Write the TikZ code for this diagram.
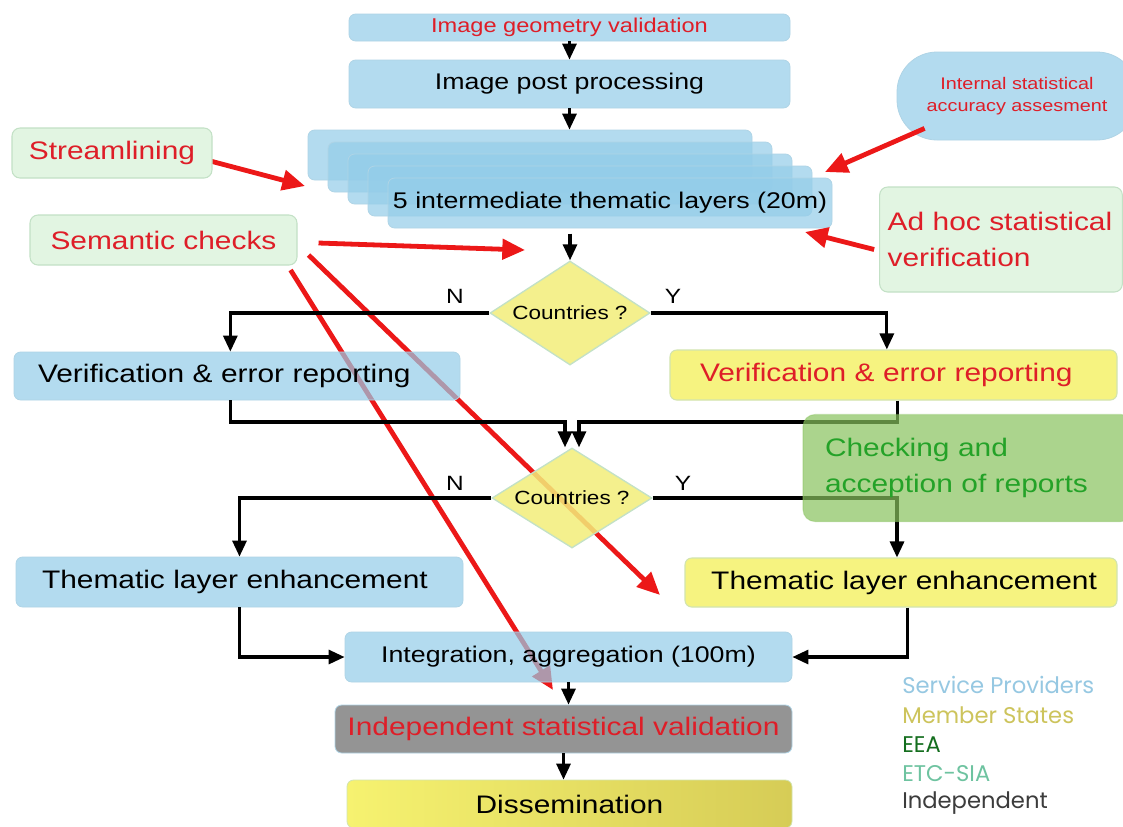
\documentclass[tikz,border=0pt]{standalone}
\usepackage{fontspec}
\setmainfont{Liberation Sans}[FakeStretch=1.18]
\newfontfamily\legendfont{Poppins}
\usetikzlibrary{shapes.geometric,arrows.meta,calc}
\pgfdeclarelayer{bg}
\pgfsetlayers{bg,main}
\definecolor{bluefill}{RGB}{148,205,233}
\definecolor{blueedge}{RGB}{175,212,230}
\definecolor{yelfill}{RGB}{246,243,128}
\definecolor{yeledge}{RGB}{210,228,175}
\definecolor{dmdfill}{RGB}{243,238,122}
\definecolor{grnlight}{RGB}{226,245,226}
\definecolor{grnedge}{RGB}{195,225,198}
\definecolor{checkfill}{RGB}{136,194,94}
\definecolor{checktext}{RGB}{36,162,40}
\definecolor{txtred}{RGB}{222,30,40}
\definecolor{arrred}{RGB}{236,24,24}
\definecolor{greyfill}{RGB}{148,148,148}
\definecolor{dissL}{RGB}{246,242,112}
\definecolor{dissR}{RGB}{214,204,86}
\definecolor{lgSP}{RGB}{150,200,226}
\definecolor{lgMS}{RGB}{205,196,92}
\definecolor{lgEEA}{RGB}{20,110,30}
\definecolor{lgETC}{RGB}{110,195,160}
\definecolor{lgInd}{RGB}{60,60,60}
\tikzset{
  bbox/.style={rectangle, rounded corners=5pt, fill=bluefill, fill opacity=0.7, text opacity=1,
    draw=blueedge, line width=0.6pt, inner sep=0pt},
  ybox/.style={rectangle, rounded corners=5pt, fill=yelfill, draw=yeledge, line width=0.8pt, inner sep=0pt},
  gbox/.style={rectangle, rounded corners=6pt, fill=grnlight, draw=grnedge, line width=0.8pt, inner sep=0pt},
  dmd/.style={diamond, fill=dmdfill, fill opacity=0.85, text opacity=1, draw=grnedge, line width=1pt, inner sep=0pt,
    font=\fontsize{14.3}{16}\selectfont},
  arr/.style={draw=black, line width=2.3pt, -{Triangle[length=12pt,width=10.5pt]}},
  redarr/.style={draw=arrred, line width=3.6pt, -{Triangle[length=17pt,width=15pt]}},
  yn/.style={font=\fontsize{15.5}{17}\selectfont, inner sep=0pt},
  lgd/.style={anchor=west, inner sep=0pt, font=\legendfont\fontsize{17}{19}\selectfont},
}
\begin{document}
\begin{tikzpicture}[x=0.75pt, y=-0.75pt, font=\fontsize{19}{27}\selectfont]
\useasboundingbox (0,0) rectangle (1123,826);
\begin{pgfonlayer}{bg}
\fill[white] (0,0) rectangle (1123,826);
\end{pgfonlayer}

% main column
\node[bbox, minimum width=330.75pt, minimum height=20.25pt, text=txtred, font=\fontsize{15}{17}\selectfont]
  (igv) at (569.5,27.5) {Image geometry validation};
\node[bbox, minimum width=330.75pt, minimum height=36pt, font=\fontsize{17}{20}\selectfont]
  (ipp) at (569.5,84) {Image post processing};
\foreach \i in {0,1,2,3}{
  \node[bbox, minimum width=333pt, minimum height=37.5pt] (s\i) at ({530+20*\i},{155+12*\i}) {};
}
\node[bbox, minimum width=333pt, minimum height=37.5pt, font=\fontsize{17}{20}\selectfont]
  (s4) at (610,203) {5 intermediate thematic layers (20m)};

\node[dmd, shape aspect=1.54, minimum width=120pt, minimum height=78pt] (d1) at (570,313) {Countries ?};
\node[bbox, align=left, text width=298.5pt, inner xsep=18pt, minimum height=36pt] (vl) at (237,376) {Verification \& error reporting};
\node[ybox, align=left, text width=290.25pt, inner xsep=22.5pt, minimum height=37.5pt, text=txtred] (vr) at (893.5,375) {Verification \& error reporting};

\node[dmd, shape aspect=1.6, minimum width=120pt, minimum height=75pt] (d2) at (572,498) {Countries ?};
\node[bbox, align=left, text width=296.25pt, inner xsep=19.5pt, minimum height=37.5pt] (tl) at (239.5,582) {Thematic layer enhancement};
\node[ybox, align=right, text width=294pt, inner xsep=15pt, minimum height=36.75pt] (tr) at (901,582.5) {Thematic layer enhancement};

\node[bbox, minimum width=335.25pt, minimum height=37.5pt, font=\fontsize{17}{20}\selectfont]
  (integ) at (568.5,657) {Integration, aggregation (100m)};
\node[rectangle, rounded corners=5pt, fill=greyfill, draw=blueedge, line width=0.6pt, inner sep=0pt,
  minimum width=342.75pt, minimum height=36pt, text=txtred] (isv) at (563.5,729) {Independent statistical validation};
\node[rectangle, rounded corners=5pt, left color=dissL, right color=dissR, draw=yeledge, line width=0.6pt, inner sep=0pt,
  minimum width=333.75pt, minimum height=36pt] (diss) at (569.5,804) {Dissemination};

% side boxes
\node[gbox, minimum width=150pt, minimum height=37.5pt, text=txtred] (stream) at (112,153) {Streamlining};
\node[gbox, minimum width=200.25pt, minimum height=37.5pt, text=txtred] (sem) at (163.5,240) {Semantic checks};
\node[rectangle, rounded corners=30pt, fill=bluefill, fill opacity=0.7, text opacity=1, draw=blueedge, line width=0.6pt,
  minimum width=180pt, minimum height=66pt, inner sep=0pt, text=txtred, align=center,
  font=\fontsize{12.6}{17}\selectfont] (internal) at (1017,96) {Internal statistical\\accuracy assesment};
\node[gbox, text=txtred, align=left, text width=170pt, inner xsep=6pt, minimum height=78.75pt]
  (adhoc) at (1001,239.5) {Ad hoc statistical\\verification};

% Y / N labels
\node[yn] (n1) at (455,296) {N};
\node[yn] (y1) at (673,296) {Y};
\node[yn] (n2) at (455,483) {N};
\node[yn] (y2) at (683,483) {Y};

% black connectors
\coordinate (m1) at (565,422);
\coordinate (m2) at (579,422);
\draw[arr] (igv.south) -- (ipp.north);
\draw[arr] (ipp.south) -- (ipp.south |- s0.north);
\draw[arr] ([yshift=-4pt]d1.north |- s4.south) -- (d1.north);
\draw[arr] (d1.west) -| ([xshift=-5pt]vl.north);
\draw[arr] (d1.east) -| ([xshift=-5pt]vr.north);
\draw[arr] ([xshift=-5pt]vl.south) |- (m1) -- (m1 |- d2.north);
\draw[arr] ([xshift=3pt]vr.south) |- (m2) -- (m2 |- d2.north);
\draw[arr] (d2.west) -| (tl.north);
\draw[arr] (d2.east) -| ([xshift=-3pt]tr.north);
\draw[arr] (tl.south) |- (integ.west);
\draw[arr] ([xshift=5pt]tr.south) |- (integ.east);
\draw[arr] (integ.south) -- (integ.south |- isv.north);
\draw[arr] (isv.south) -- (isv.south |- diss.north);

% green checking box (semi-transparent, over connectors)
\node[rectangle, rounded corners=9pt, fill=checkfill, fill opacity=0.7, text opacity=1, draw=checkfill, draw opacity=0.4,
  line width=0.8pt, text=checktext, align=left, text width=214.5pt, inner xsep=16.5pt,
  minimum height=80.25pt] (check) at (968,468) {Checking and\\acception of reports};

% red arrows (behind boxes)
\coordinate (t1) at (305,186);
\coordinate (t2) at (825,172);
\coordinate (t3) at (805,232);
\coordinate (t4) at (525,250);
\coordinate (t5) at (660,595);
\coordinate (t6) at (553,690);
\begin{pgfonlayer}{bg}
\draw[redarr] ($(stream.east)+(-6,7)$) -- (t1);
\draw[redarr] ($(sem.east)+(21,3)$) -- (t4);
\draw[redarr] ($(sem.east)+(11,15)$) -- (t5);
\draw[redarr] ($(sem.east)+(-7,30)$) -- (t6);
\end{pgfonlayer}
\draw[redarr] ($(internal.south west)+(28,-12)$) -- (t2);
\draw[redarr] ($(adhoc.west)+(-5,10)$) -- (t3);

% legend
\node[lgd, text=lgSP] (lg1) at (902,685) {Service Providers};
\node[lgd, text=lgMS] (lg2) at (902,715) {Member States};
\node[lgd, text=lgEEA] (lg3) at (902,745) {EEA};
\node[lgd, text=lgETC] (lg4) at (902,774) {ETC-SIA};
\node[lgd, text=lgInd] (lg5) at (902,803) {Independent};
\end{tikzpicture}
\end{document}
